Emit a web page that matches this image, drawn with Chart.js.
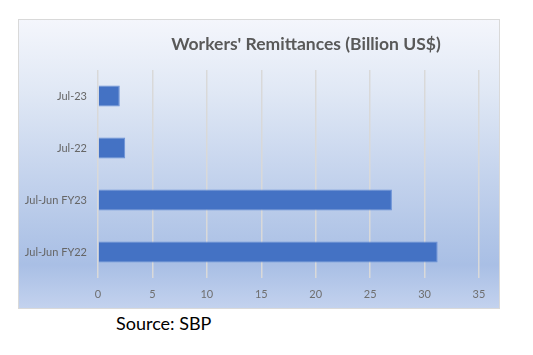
<!DOCTYPE html>
<html>
<head>
<meta charset="utf-8">
<script src="https://cdn.jsdelivr.net/npm/chart.js@4.4.0/dist/chart.umd.min.js"></script>
<style>
  html, body { margin: 0; padding: 0; background: #ffffff; }
  body { width: 533px; height: 355px; position: relative; overflow: hidden; }
  #box {
    position: absolute; left: 18px; top: 19px; width: 480px; height: 288px;
    border: 1px solid #d9d9d9;
    background: linear-gradient(to bottom, #f4f6fc 0%, #e0e8f5 25%, #c8d6ee 50%, #b1c5e7 75%, #a9bfe5 85%, #c3d2ee 100%);
  }
  #chartWrap { position: absolute; left: 0; top: 0; width: 480px; height: 288px; }
  #title {
    position: absolute; left: 0; top: 33px; width: 533px; text-align: center;
    padding-left: 79px; box-sizing: border-box;
    font-family: Lato, "Open Sans", sans-serif; font-weight: bold; font-size: 17.5px; color: #595959;
    line-height: 22px; white-space: nowrap;
  }
  #source {
    position: absolute; left: 116px; top: 312px;
    font-family: Lato, "Open Sans", sans-serif; font-size: 18px; color: #000000; line-height: 22px;
    white-space: nowrap;
  }
</style>
</head>
<body>
<div id="box"><div id="chartWrap"><canvas id="c" width="480" height="288"></canvas></div></div>
<div id="title">Workers' Remittances (Billion US$)</div>
<div id="source">Source: SBP</div>
<script>
const categories = ['Jul-23', 'Jul-22', 'Jul-Jun FY23', 'Jul-Jun FY22'];
const remittances = [2.0, 2.5, 27.0, 31.2];
const xTicks = [0, 5, 10, 15, 20, 25, 30, 35];

new Chart(document.getElementById('c'), {
  type: 'bar',
  data: {
    labels: categories,
    datasets: [{
      data: remittances,
      backgroundColor: '#4472c4',
      borderColor: '#6a90d6',
      borderWidth: 1,
      categoryPercentage: 1.0,
      barPercentage: 0.4
    }]
  },
  options: {
    indexAxis: 'y',
    responsive: false,
    animation: false,
    devicePixelRatio: 1,
    layout: { padding: { left: 0, right: 20, top: 50, bottom: 0 } },
    plugins: { legend: { display: false }, title: { display: false }, tooltip: { enabled: false } },
    scales: {
      x: {
        min: xTicks[0], max: xTicks[xTicks.length - 1],
        afterBuildTicks: (axis) => { axis.ticks = xTicks.map(v => ({ value: v })); },
        grid: { color: '#d9d9d9', lineWidth: 1.5, drawTicks: false },
        border: { display: false },
        ticks: { padding: 10, color: '#6f6f6f', font: { family: 'Lato, "Open Sans", sans-serif', size: 11 } },
        afterFit: (axis) => { axis.height = 30; }
      },
      y: {
        grid: { display: false, drawTicks: false },
        border: { display: false },
        ticks: { padding: 11, color: '#666666', font: { family: 'Lato, "Open Sans", sans-serif', size: 11 } },
        afterFit: (axis) => { axis.width = 79; }
      }
    }
  }
});
</script>
</body>
</html>
